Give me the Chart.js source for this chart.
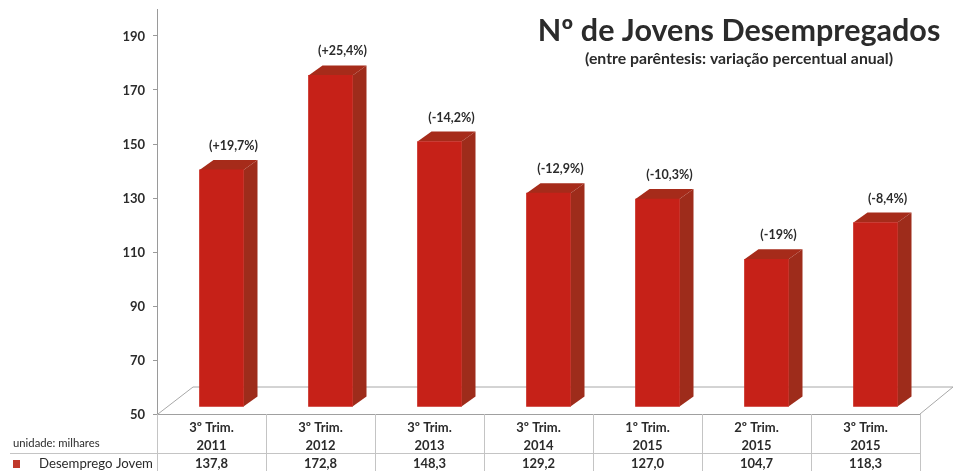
<!DOCTYPE html>
<html>
<head>
<meta charset="utf-8">
<style>
body { margin: 0; background: #fff; }
canvas { display: block; }
</style>
<script src="https://cdn.jsdelivr.net/npm/chart.js@4"></script>
</head>
<body>
<canvas id="jovens-chart" width="954" height="471"></canvas>
<script>
const periods = ['3º Trim.', '3º Trim.', '3º Trim.', '3º Trim.', '1º Trim.', '2º Trim.', '3º Trim.'];
const years = ['2011', '2012', '2013', '2014', '2015', '2015', '2015'];
const desemprego = [137.8, 172.8, 148.3, 129.2, 127.0, 104.7, 118.3];
const variacao = ['(+19,7%)', '(+25,4%)', '(-14,2%)', '(-12,9%)', '(-10,3%)', '(-19%)', '(-8,4%)'];
const yTicks = [50, 70, 90, 110, 130, 150, 170, 190];

const FONT = 'Lato, sans-serif';
const TEXT = '#2b2b2b';
const LINE = '#c4c4c4';
// the bars stand forward of the axis in the old 3D look
const SHIFT_X = 10, SHIFT_Y = -7, DEPTH_X = 14, DEPTH_Y = 10;

const labels = periods.map((p, i) => [p, years[i], desemprego[i].toFixed(1).replace('.', ',')]);

const fake3d = {
    id: 'fake3d',
    beforeDatasetsDraw(chart) {
        const ctx = chart.ctx, area = chart.chartArea;
        // floor
        ctx.save();
        ctx.strokeStyle = '#a8a8a8';
        ctx.lineWidth = 1;
        ctx.beginPath();
        ctx.moveTo(area.left + 1, area.bottom);
        ctx.lineTo(area.left + 36, area.bottom - 27);
        ctx.lineTo(area.right + 33, area.bottom - 27);
        ctx.lineTo(area.right, area.bottom);
        ctx.stroke();
        ctx.restore();

        ctx.save();
        ctx.translate(SHIFT_X, SHIFT_Y);
        chart.getDatasetMeta(0).data.forEach(bar => {
            const l = bar.x - bar.width / 2, r = bar.x + bar.width / 2;
            ctx.fillStyle = '#a62b1a';
            ctx.beginPath();
            ctx.moveTo(l, bar.y);
            ctx.lineTo(l + DEPTH_X, bar.y - DEPTH_Y);
            ctx.lineTo(r + DEPTH_X, bar.y - DEPTH_Y);
            ctx.lineTo(r, bar.y);
            ctx.fill();
            ctx.fillStyle = '#9e2c1b';
            ctx.beginPath();
            ctx.moveTo(r, bar.y);
            ctx.lineTo(r + DEPTH_X, bar.y - DEPTH_Y);
            ctx.lineTo(r + DEPTH_X, bar.base - DEPTH_Y);
            ctx.lineTo(r, bar.base);
            ctx.fill();
        });
    },
    afterDatasetsDraw(chart) {
        chart.ctx.restore();
    }
};

const annotations = {
    id: 'annotations',
    afterDraw(chart) {
        const ctx = chart.ctx, area = chart.chartArea, x = chart.scales.x;
        const half = (x.getPixelForValue(1) - x.getPixelForValue(0)) / 2;
        ctx.save();

        // table lines
        ctx.strokeStyle = LINE;
        ctx.lineWidth = 1;
        ctx.beginPath();
        ctx.moveTo(10, 453.5);
        ctx.lineTo(area.right, 453.5);
        labels.forEach((l, i) => {
            const px = Math.round(x.getPixelForValue(i) - half) + 0.5;
            ctx.moveTo(px, area.bottom);
            ctx.lineTo(px, 471);
        });
        ctx.moveTo(area.right + 0.5, area.bottom);
        ctx.lineTo(area.right + 0.5, 471);
        ctx.stroke();

        // percent labels over the bars
        ctx.fillStyle = TEXT;
        ctx.textAlign = 'center';
        ctx.textBaseline = 'middle';
        ctx.font = '700 12.5px ' + FONT;
        chart.getDatasetMeta(0).data.forEach((bar, i) => {
            ctx.fillText(variacao[i], bar.x + SHIFT_X + 12, bar.y + SHIFT_Y - DEPTH_Y - 14);
        });

        // title
        ctx.font = '700 30.5px ' + FONT;
        ctx.fillText('Nº de Jovens Desempregados', 739, 31);
        ctx.font = '700 15.8px ' + FONT;
        ctx.fillText('(entre parêntesis: variação percentual anual)', 739, 59);

        // row header
        ctx.textAlign = 'left';
        ctx.font = '400 11.3px ' + FONT;
        ctx.fillText('unidade: milhares', 13, 443);
        ctx.font = '400 13.2px ' + FONT;
        ctx.fillText('Desemprego Jovem', 39, 464);
        ctx.fillStyle = '#c0392b';
        ctx.fillRect(13, 460, 7, 8);
        ctx.restore();
    }
};

new Chart(document.getElementById('jovens-chart').getContext('2d'), {
    type: 'bar',
    data: {
        labels: labels,
        datasets: [{
            label: 'Desemprego Jovem',
            data: desemprego,
            base: 50,
            backgroundColor: '#c62118',
            barThickness: 44,
            clip: false
        }]
    },
    options: {
        responsive: false,
        animation: false,
        layout: { padding: { top: 9, right: 34, bottom: 0, left: 0 } },
        plugins: { legend: { display: false }, tooltip: { enabled: false } },
        scales: {
            x: {
                grid: { display: false, tickLength: 0 },
                border: { color: '#a0a0a0', dash: [3, 1] },
                afterFit(scale) { scale.height = 57; scale.paddingLeft = 0; scale.paddingRight = 0; },
                ticks: {
                    autoSkip: false,
                    maxRotation: 0,
                    padding: 5,
                    color: TEXT,
                    font: { family: FONT, size: 13, weight: '700', lineHeight: 1.385 }
                }
            },
            y: {
                min: 50,
                max: 200,
                grid: { drawOnChartArea: false, tickLength: 4, color: '#9a9a9a' },
                border: { color: '#9a9a9a', dash: [3, 1] },
                afterFit(scale) { scale.width = 157; scale.paddingTop = 0; scale.paddingBottom = 0; },
                afterBuildTicks(scale) { scale.ticks = yTicks.map(v => ({ value: v })); },
                ticks: {
                    padding: 8,
                    labelOffset: 1,
                    color: TEXT,
                    font: { family: FONT, size: 13, weight: '700' }
                }
            }
        }
    },
    plugins: [fake3d, annotations]
});
</script>
</body>
</html>
